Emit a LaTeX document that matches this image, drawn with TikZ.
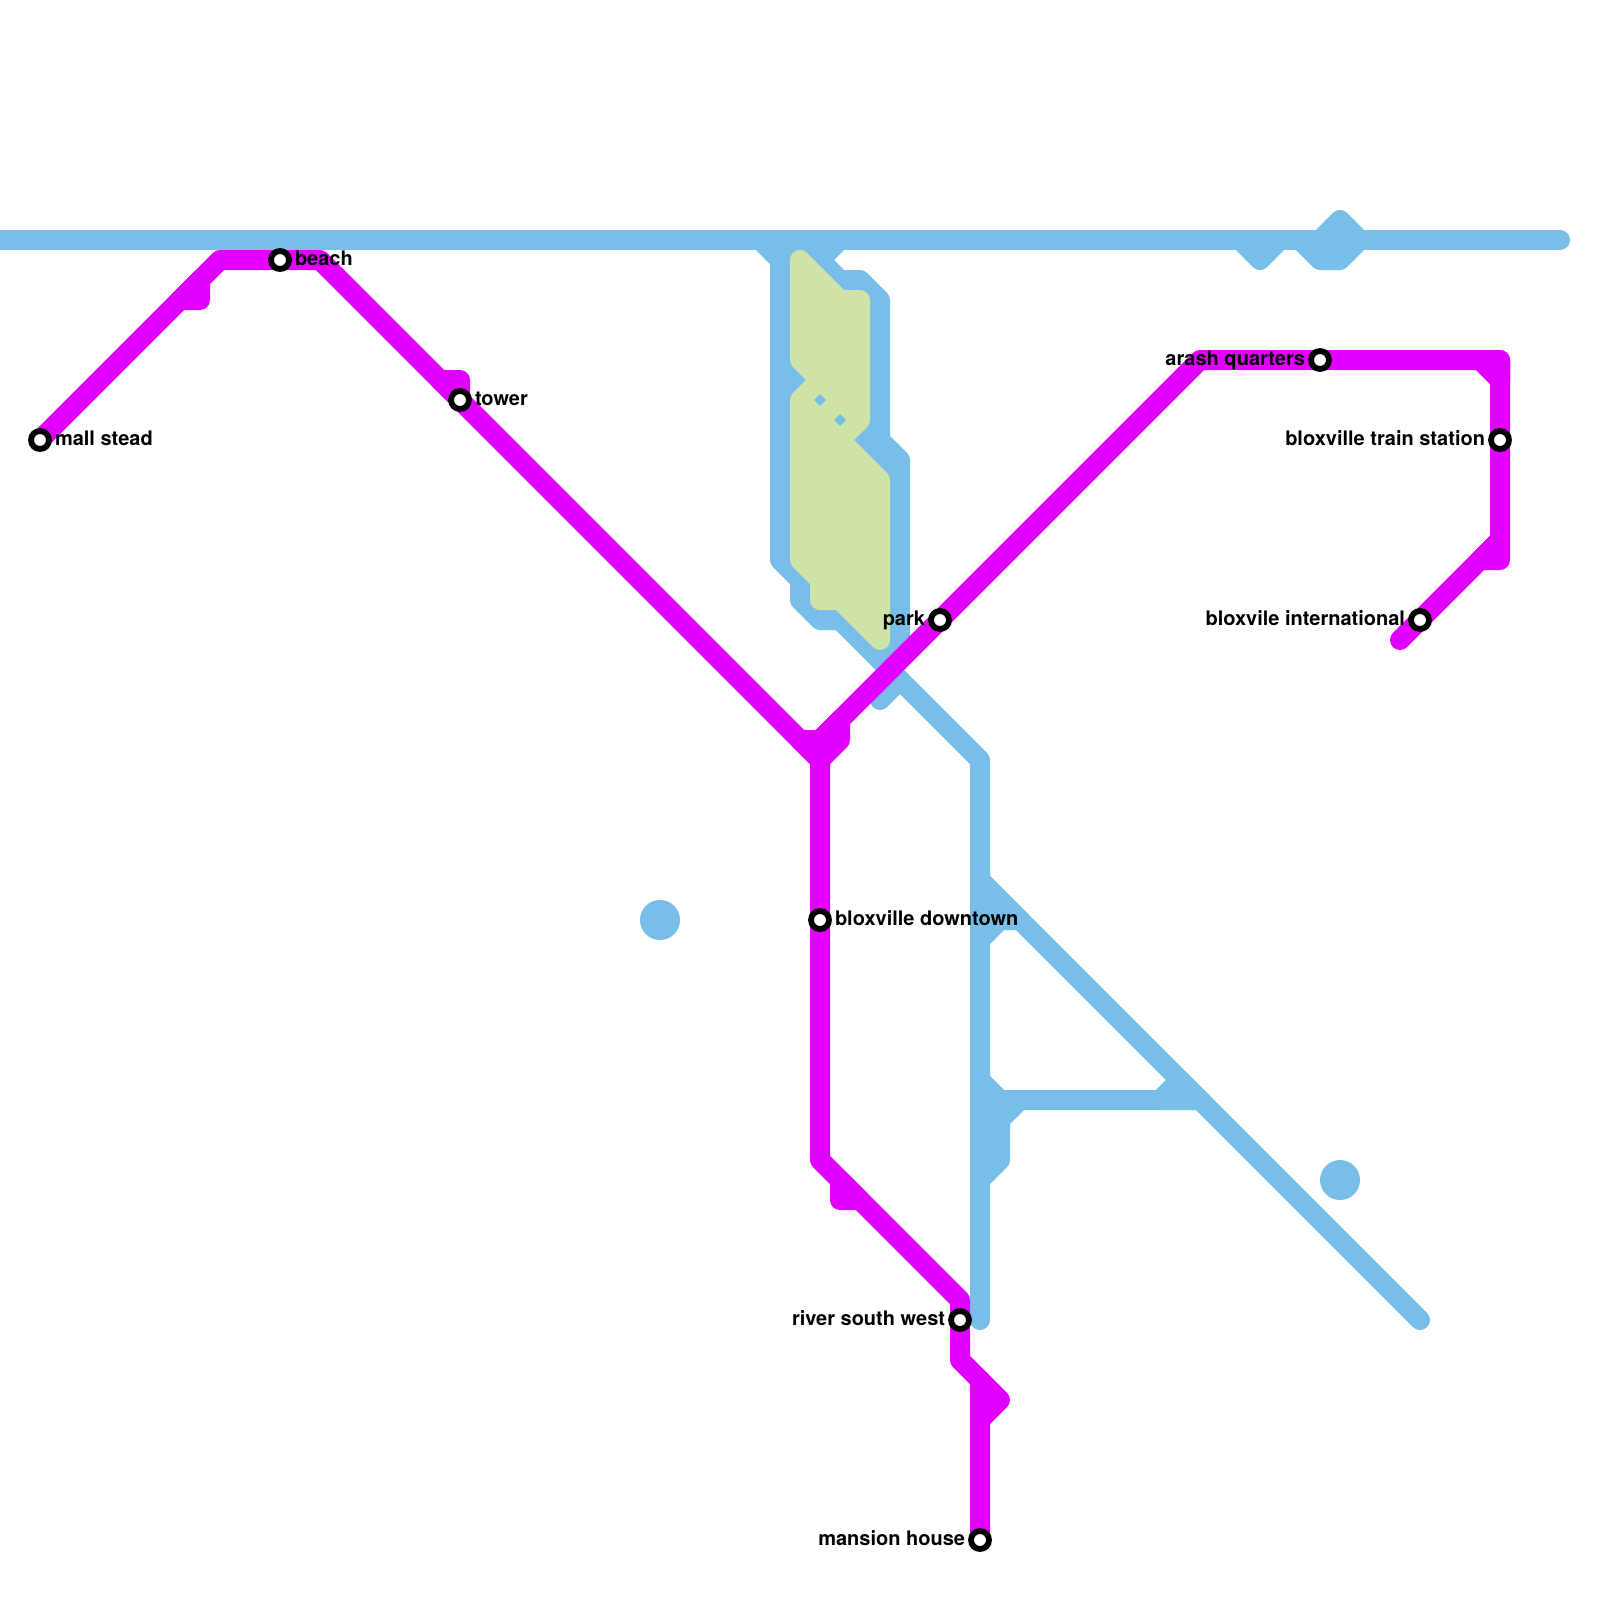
\documentclass[tikz,border=0pt]{standalone}
\usepackage{fontspec}
\setmainfont{TeX Gyre Heros}
\definecolor{lineblue}{HTML}{79BDE9}
\definecolor{linemag}{HTML}{E100FF}
\definecolor{parkgreen}{HTML}{CEE3A5}
\tikzset{
  bluepath/.style={draw=lineblue,line width=10pt,line join=round,line cap=round},
  bluepoly/.style={bluepath,fill=lineblue},
  magpath/.style={draw=linemag,line width=10pt,line join=round,line cap=round},
  magpoly/.style={magpath,fill=linemag},
  greenpoly/.style={draw=parkgreen,fill=parkgreen,line width=10pt,line join=round},
  stn/.style={circle,draw=black,fill=white,line width=2.9pt,minimum size=9pt,inner sep=0pt,outer sep=0pt},
  lbl/.style={font=\bfseries\fontsize{10}{12}\selectfont,inner sep=0pt,outer sep=0pt},
  blob/.style={circle,fill=lineblue,minimum size=20pt,inner sep=0pt,outer sep=0pt},
  hole/.style={fill=lineblue}
}
\begin{document}
\begin{tikzpicture}[x=0.5pt,y=-0.5pt]
\useasboundingbox (0,0) rectangle (1600,1600);
% station positions
\coordinate (mall) at (40,440);
\coordinate (beach) at (280,260);
\coordinate (tower) at (460,400);
\coordinate (downtown) at (820,920);
\coordinate (park) at (940,620);
\coordinate (arash) at (1320,360);
\coordinate (train) at (1500,440);
\coordinate (intl) at (1420,620);
\coordinate (river) at (960,1320);
\coordinate (mansion) at (980,1540);
% blue lines
\draw[bluepath] (0,240) -- (1560,240);
\filldraw[bluepoly] (760,240) -- (780,260) -- (780,560) -- (800,580) -- (800,600) -- (820,620) -- (840,620) -- (880,660) -- (900,640) -- (900,460) -- (880,440) -- (880,300) -- (860,280) -- (840,280) -- (800,240) -- cycle;
\draw[bluepath] (820,260) -- (840,240);
\draw[bluepath] (900,680) -- (880,700);
\draw[bluepath] (840,620) -- (980,760) -- (980,1320);
\draw[bluepath] (980,880) -- (1420,1320);
\filldraw[bluepoly] (980,880) -- (1020,920) -- (1000,920) -- (980,940) -- cycle;
\draw[bluepath] (1000,1100) -- (1200,1100);
\filldraw[bluepoly] (1160,1100) -- (1180,1080) -- (1200,1100) -- cycle;
\filldraw[bluepoly] (980,1080) -- (1000,1100) -- (1020,1100) -- (1000,1120) -- (1000,1160) -- (980,1180) -- cycle;
\filldraw[bluepoly] (1240,240) -- (1260,260) -- (1280,240) -- cycle;
\filldraw[bluepoly] (1300,240) -- (1320,260) -- (1340,260) -- (1360,240) -- (1340,220) -- (1320,240) -- cycle;
\node[blob] (blobw) at (660,920) {};
\node[blob] (blobe) at (1340,1180) {};
% park
\filldraw[greenpoly] (800,260) -- (840,300) -- (860,300) -- (860,420) -- (840,440) -- (880,480) -- (880,640) -- (840,600) -- (820,600) -- (820,580) -- (800,560) -- (800,400) -- (820,380) -- (800,360) -- cycle;
\fill[hole] (820,394) -- (826,400) -- (820,406) -- (814,400) -- cycle;
\fill[hole] (840,414) -- (846,420) -- (840,426) -- (834,420) -- cycle;
% magenta line
\draw[magpath] (mall) -- (220,260) -- (beach) -- (320,260) -- (tower) -- (820,760) -- (downtown) -- (820,1160) -- (960,1300) -- (river) -- (960,1360) -- (980,1380) -- (mansion);
\draw[magpath] (820,740) -- (park) -- (1200,360) -- (arash) -- (1500,360) -- (train) -- (1500,540) -- (intl) -- (1400,640);
\filldraw[magpoly] (180,300) -- (200,300) -- (200,280) -- cycle;
\filldraw[magpoly] (440,380) -- (460,380) -- (460,400) -- cycle;
\filldraw[magpoly] (800,740) -- (820,740) -- (840,720) -- (840,740) -- (820,760) -- cycle;
\filldraw[magpoly] (840,1180) -- (840,1200) -- (860,1200) -- cycle;
\filldraw[magpoly] (980,1380) -- (1000,1400) -- (980,1420) -- cycle;
\filldraw[magpoly] (1480,360) -- (1500,380) -- (1500,360) -- cycle;
\filldraw[magpoly] (1480,560) -- (1500,560) -- (1500,540) -- cycle;
% stations
\node[stn] (small) at (mall) {};
\node[stn] (sbeach) at (beach) {};
\node[stn] (stower) at (tower) {};
\node[stn] (sdown) at (downtown) {};
\node[stn] (spark) at (park) {};
\node[stn] (sarash) at (arash) {};
\node[stn] (strain) at (train) {};
\node[stn] (sintl) at (intl) {};
\node[stn] (sriver) at (river) {};
\node[stn] (smans) at (mansion) {};
% labels
\node[lbl,anchor=base west] (lmall) at (55,445) {mall stead};
\node[lbl,anchor=base west] (lbeach) at (295,265) {beach};
\node[lbl,anchor=base west] (ltower) at (475,405) {tower};
\node[lbl,anchor=base west] (ldown) at (835,925) {bloxville downtown};
\node[lbl,anchor=base east] (lpark) at (925,625) {park};
\node[lbl,anchor=base east] (larash) at (1305,365) {arash quarters};
\node[lbl,anchor=base east] (ltrain) at (1485,445) {bloxville train station};
\node[lbl,anchor=base east] (lintl) at (1405,625) {bloxvile international};
\node[lbl,anchor=base east] (lriver) at (945,1325) {river south west};
\node[lbl,anchor=base east] (lmans) at (965,1545) {mansion house};
\end{tikzpicture}
\end{document}
